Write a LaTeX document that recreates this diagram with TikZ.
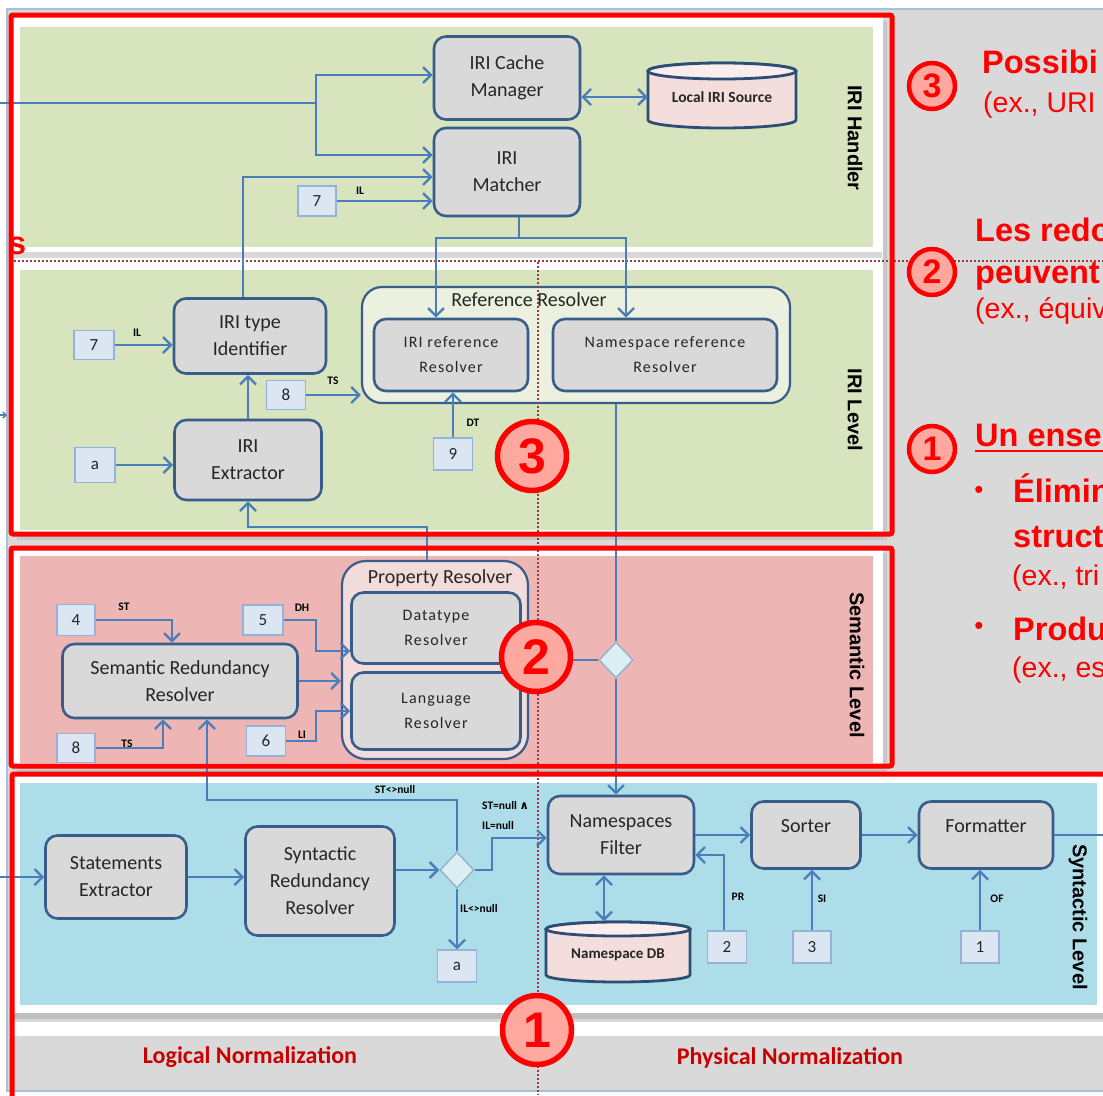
\documentclass[tikz,border=0pt]{standalone}
\usepackage{fontspec}
\setmainfont{Carlito}
\newfontfamily\arialf{Liberation Sans}
\newfontfamily\spacedf[LetterSpace=7]{Carlito}
\newfontfamily\dejaf{DejaVu Sans}
\usetikzlibrary{arrows.meta,shapes.geometric,calc}
\definecolor{arr}{HTML}{4A7EBB}
\definecolor{boxfill}{HTML}{D9D9D9}
\definecolor{boxdraw}{HTML}{385D8A}
\definecolor{pgreen}{HTML}{D7E4BD}
\definecolor{ppink}{HTML}{EEB5B5}
\definecolor{pblue}{HTML}{ADDDE9}
\definecolor{numfill}{HTML}{DCE6F2}
\definecolor{numdraw}{HTML}{95B3D7}
\definecolor{redx}{HTML}{FF0000}
\definecolor{circfill}{HTML}{FFA8A0}
\definecolor{darkred}{HTML}{C80000}
\definecolor{contA}{HTML}{EBF1DE}
\definecolor{contB}{HTML}{F2DCDB}
\definecolor{cylfill}{HTML}{F4DEDD}
\definecolor{cyltop}{HTML}{FBEDED}
\definecolor{cyldraw}{HTML}{2D4E74}
\definecolor{slide}{HTML}{D9D9D9}
\definecolor{dotc}{HTML}{9B3B3B}
\definecolor{framec}{HTML}{A9C0DA}
\definecolor{txt}{HTML}{262626}
\definecolor{decfill}{HTML}{DAEEF3}
\definecolor{decdraw}{HTML}{8EB0C8}
\begin{document}
\begin{tikzpicture}[x=1pt,y=-1pt,
  proc/.style={draw=boxdraw, fill=boxfill, line width=2.6pt, rounded corners=12pt, align=center, text=txt, font=\fontsize{20}{27}\selectfont, inner sep=0pt},
  sproc/.style={proc, font=\spacedf\fontsize{16}{25}\selectfont},
  num/.style={draw=numdraw, fill=numfill, line width=1.2pt, inner sep=0pt, minimum width=39pt, minimum height=31pt, font=\fontsize{17}{17}\selectfont, text=txt},
  tag/.style={font=\bfseries\fontsize{11.5}{12}\selectfont, text=black, inner sep=0pt},
  flow/.style={draw=arr, line width=2.4pt, -{Straight Barb[length=8pt,width=16pt]}},
  flowboth/.style={draw=arr, line width=2.4pt, {Straight Barb[length=8pt,width=16pt]}-{Straight Barb[length=8pt,width=16pt]}},
  conn/.style={draw=arr, line width=2.4pt},
  cont/.style={draw=boxdraw, line width=2.2pt, rounded corners=20pt, inner sep=0pt},
  contlab/.style={font=\fontsize{20}{20}\selectfont, text=txt, inner sep=0pt},
  dec/.style={diamond, draw=decdraw, fill=decfill, line width=1.3pt, minimum width=34pt, minimum height=36pt, inner sep=0pt},
  bigc/.style={circle, draw=redx, fill=circfill, line width=5.5pt, minimum size=69pt, inner sep=0pt, text=redx, font=\arialf\bfseries\fontsize{50}{50}\selectfont},
  smallc/.style={circle, draw=redx, fill=circfill, line width=4.5pt, minimum size=46pt, inner sep=0pt, text=redx, font=\arialf\bfseries\fontsize{34}{34}\selectfont},
  vlab/.style={rotate=-90, font=\arialf\bfseries\fontsize{20}{20}\selectfont, text=black, inner sep=0pt},
  rtb/.style={anchor=base west, inner sep=0pt, text=redx, font=\arialf\bfseries\fontsize{32.5}{33}\selectfont},
  rtr/.style={anchor=base west, inner sep=0pt, text=redx, font=\arialf\fontsize{28.5}{29}\selectfont},
  norm/.style={font=\bfseries\fontsize{24}{24}\selectfont, text=darkred, inner sep=0pt},
  dbtext/.style={font=\bfseries\fontsize{15.5}{16}\selectfont, text=txt, inner sep=0pt},
  redbox/.style={draw=redx, line width=5pt, rounded corners=2pt}
]
\useasboundingbox (0,0) rectangle (1103,1095);
\clip (0,0) rectangle (1103,1095);
% ---------- background ----------
\fill[white] (0,0) rectangle (1103,1095);
\fill[slide] (7,9) rectangle (1103,1091);
\draw[framec, line width=1.2pt] (7,9) rectangle (1112,1091);
% cards
\fill[black!22] (17,21) rectangle (887,540);
\fill[white] (13,16) rectangle (883,536);
\fill[black!15] (14,252) rectangle (882,258);
\fill[black!22] (17,553) rectangle (887,772);
\fill[white] (13,549) rectangle (883,768);
\fill[white] (13,776) rectangle (1103,1013);
\fill[black!25] (13,1013) rectangle (1103,1019);
\fill[white] (13,1022) rectangle (1103,1036);
% panels
\fill[pgreen] (20,27) rectangle (873,247);
\fill[pgreen] (20,270) rectangle (873,530);
\fill[ppink] (20,556) rectangle (873,763);
\fill[pblue] (20,783) rectangle (1097,1005);
% containers
\node[cont, fill=contA, minimum width=428pt, minimum height=116pt] (refcont) at (576,345) {};
\node[cont, fill=contB, minimum width=186pt, minimum height=198pt, rounded corners=24pt] (propcont) at (435,660) {};
% dotted separators
\draw[dotc, line width=2pt, dotted] (14,261) -- (1103,261);
\draw[dotc, line width=2pt, dotted] (538,262) -- (538,1095);
\node[contlab] (refl) at (529,300) {Reference Resolver};
\node[contlab] (propl) at (440,578) {Property Resolver};
% ---------- IRI Handler ----------
\node[proc, minimum width=146pt, minimum height=83pt] (cache) at (507,78) {IRI Cache\\Manager};
\node[proc, minimum width=146pt, minimum height=88pt] (matcher) at (507,172) {IRI\\Matcher};
\node[minimum width=148pt, minimum height=64pt, inner sep=0pt] (lis) at (722,97) {};
\filldraw[fill=cylfill, draw=cyldraw, line width=2.8pt] (648,71) -- (648,120) arc[start angle=180, end angle=360, x radius=74pt, y radius=8pt] -- (796,71) arc[start angle=0, end angle=180, x radius=74pt, y radius=8pt] -- cycle;
\filldraw[fill=cyltop, draw=cyldraw, line width=2.8pt] (722,71) ellipse [x radius=74pt, y radius=8pt];
\node[dbtext] at (lis.center) {Local IRI Source};
\node[num, minimum width=38pt, minimum height=30pt] (n7a) at (317,201) {7};
% ---------- IRI Level ----------
\node[proc, minimum width=152pt, minimum height=75pt] (ident) at (250,336) {IRI type\\Identifier};
\node[num, minimum width=40pt, minimum height=29pt] (n7b) at (94,345) {7};
\node[num, minimum width=39pt, minimum height=29pt] (n8a) at (286,395) {8};
\node[proc, minimum width=147pt, minimum height=80pt] (extr) at (248,460) {IRI\\Extractor};
\node[num, minimum width=40pt, minimum height=35pt] (na1) at (95,465) {a};
\node[sproc, minimum width=154pt, minimum height=72pt] (irires) at (451,355) {IRI reference\\Resolver};
\node[sproc, minimum width=224pt, minimum height=72pt] (nsres) at (665,355) {Namespace reference\\Resolver};
\node[num, minimum width=39pt, minimum height=32pt] (n9) at (453,454) {9};
% ---------- Semantic Level ----------
\node[proc, minimum width=235pt, minimum height=74pt] (srr) at (180,681) {Semantic Redundancy\\Resolver};
\node[num, minimum width=38pt, minimum height=31pt] (n4) at (76,620) {4};
\node[num, minimum width=40pt, minimum height=30pt] (n5) at (263,620) {5};
\node[num, minimum width=38pt, minimum height=29pt] (n8b) at (76,748) {8};
\node[num, minimum width=39pt, minimum height=30pt] (n6) at (266,741) {6};
\node[sproc, minimum width=169pt, minimum height=71pt] (dtres) at (436,628) {Datatype\\Resolver};
\node[sproc, minimum width=169pt, minimum height=77pt] (lres) at (436,711) {Language\\Resolver};
\node[dec] (d2) at (616,660) {};
% ---------- Syntactic Level ----------
\node[proc, minimum width=141pt, minimum height=83pt] (se) at (116,877) {Statements\\Extractor};
\node[proc, minimum width=149pt, minimum height=109pt] (syr) at (320,881) {Syntactic\\Redundancy\\Resolver};
\node[dec] (d1) at (457,870) {};
\node[num, minimum width=39pt, minimum height=32pt] (na2) at (457,966) {a};
\node[proc, minimum width=146pt, minimum height=78pt] (filter) at (621,835) {Namespaces\\Filter};
\node[minimum width=144pt, minimum height=61pt, inner sep=0pt] (nsdb) at (618,952) {};
\filldraw[fill=cylfill, draw=cyldraw, line width=2.8pt] (546,929) -- (546,975) arc[start angle=180, end angle=360, x radius=72pt, y radius=7pt] -- (690,929) arc[start angle=0, end angle=180, x radius=72pt, y radius=7pt] -- cycle;
\filldraw[fill=cyltop, draw=cyldraw, line width=2.8pt] (618,929) ellipse [x radius=72pt, y radius=7pt];
\node[dbtext, font=\bfseries\fontsize{15}{15}\selectfont] at ([yshift=-3pt]nsdb.center) {Namespace DB};
\node[proc, minimum width=109pt, minimum height=67pt, text height=13pt, text depth=19pt] (sorter) at (806,835) {Sorter};
\node[proc, minimum width=134pt, minimum height=67pt, text height=13pt, text depth=19pt] (formatter) at (986,835) {Formatter};
\node[num, minimum width=39pt, minimum height=32pt] (n2) at (727,947) {2};
\node[num, minimum width=38pt, minimum height=32pt] (n3) at (812,947) {3};
\node[num, minimum width=38pt, minimum height=32pt] (n1) at (980,947) {1};
% ---------- connectors: IRI Handler ----------
\coordinate (inA) at (0,103);
\coordinate (jA) at (316,103);
\draw[conn] (inA) -- (jA);
\draw[flow] (jA) |- ([yshift=3pt]cache.west);
\draw[flow] (jA) |- ([yshift=17pt]matcher.west);
\draw[flowboth] (cache.east |- lis.west) -- (lis.west);
\draw[flow] ([xshift=-7pt]ident.north) |- ([yshift=-5pt]matcher.west);
\draw[flow] (n7a.east) -- (n7a.east -| matcher.west);
\coordinate (split) at (519,238);
\draw[conn] (split |- matcher.south) -- (split);
\draw[flow] (split) -| ([xshift=-15pt]irires.north);
\draw[flow] (split) -| ([xshift=-39pt]nsres.north);
% ---------- connectors: IRI Level ----------
\coordinate (stubA) at (0,415);
\coordinate (stubB) at (7,415);
\draw[draw=arr, line width=1.5pt, -{Straight Barb[length=3pt,width=6pt]}] (stubA) -- (stubB);
\draw[flow] (n7b.east) -- (n7b.east -| ident.west);
\draw[flow] (n8a.east) -- (n8a.east -| refcont.west);
\draw[flow] (na1.east) -- (na1.east -| extr.west);
\draw[flow] (extr.north) -- (extr.north |- ident.south);
\draw[flow] (n9.north) -- (n9.north |- irires.south);
\draw[conn] (refcont.south -| d2.north) -- (d2.north);
\draw[flow] (d2.south) -- (d2.south |- filter.north);
\coordinate (pr1) at (427,527);
\draw[flow] (propcont.north -| pr1) -- (pr1) -| (extr.south);
% ---------- connectors: Semantic ----------
\draw[flow] (n4.east) -| ([xshift=-8pt]srr.north);
\coordinate (c5) at (316,651);
\draw[flow] (n5.east) -| (c5) -- (c5 -| dtres.west);
\draw[flow] (n8b.east) -| ([xshift=-17pt]srr.south);
\coordinate (c6) at (316,711);
\draw[flow] (n6.east) -| (c6) -- (c6 -| lres.west);
\draw[flow] (srr.east) -- (srr.east -| propcont.west);
\draw[conn] (propcont.east) -- (d2.west);
% ---------- connectors: Syntactic ----------
\coordinate (inS) at (0,877);
\draw[flow] (inS) -- (se.west);
\draw[flow] (se.east) -- (se.east -| syr.west);
\draw[flow] (syr.east |- d1.west) -- (d1.west);
\coordinate (c1) at (492,838);
\draw[flow] (d1.east) -| (c1) -- (c1 -| filter.west);
\draw[flow] (d1.south) -- (na2.north);
\coordinate (c2) at (207,800);
\draw[flow] (d1.north) |- (c2) -- (c2 |- srr.south);
\draw[flowboth] ([xshift=-17pt]filter.south) -- ([xshift=-14pt]nsdb.north);
\draw[flow] (filter.east) -- (sorter.west);
\draw[flow] (sorter.east) -- (formatter.west);
\coordinate (outS) at (1103,835);
\draw[conn] (formatter.east) -- (outS);
\draw[flow] ([xshift=-3pt]n2.north) |- ([yshift=-20pt]filter.east);
\draw[flow] (n3.north) -- (n3.north |- sorter.south);
\draw[flow] (n1.north) -- (n1.north |- formatter.south);
% ---------- tags ----------
\node[tag] (tIL1) at (360,191) {IL};
\node[tag] (tIL2) at (137,333) {IL};
\node[tag] (tTS1) at (333,381) {TS};
\node[tag] (tDT) at (473,423) {DT};
\node[tag] (tST) at (124,607) {ST};
\node[tag] (tDH) at (302,608) {DH};
\node[tag] (tTS2) at (127,744) {TS};
\node[tag] (tLI) at (302,735) {LI};
\node[tag] (tSTn) at (395,789) {ST<>null};
\node[tag, anchor=west] (tSTa) at (482,805) {ST=null {\dejaf\bfseries ∧}};
\node[tag, anchor=west] (tILa) at (482,825) {IL=null};
\node[tag, anchor=west] (tILn) at (460,908) {IL<>null};
\node[tag] (tPR) at (738,897) {PR};
\node[tag] (tSI) at (822,899) {SI};
\node[tag] (tOF) at (997,899) {OF};
% ---------- level labels ----------
\node[vlab] (vl1) at (855,138) {IRI Handler};
\node[vlab] (vl2) at (855,410) {IRI Level};
\node[vlab] (vl3) at (857,665) {Semantic Level};
\node[vlab] (vl4) at (1078,917) {Syntactic Level};
% bottom labels
\node[norm] (ln) at (250,1057) {Logical Normalization};
\node[norm] (pn) at (790,1058) {Physical Normalization};
% ---------- red boxes ----------
\draw[redbox] (11,15) rectangle (892,534);
\draw[redbox] (11,548) rectangle (892,766);
\draw[redbox] (12,774) rectangle (1115,1110);
% ---------- circles ----------
\node[bigc] (C3) at (532,456) {3};
\node[bigc] (C2) at (536,657) {2};
\node[bigc] (C1) at (537,1030) {1};
\node[smallc] (R3) at (932,86) {3};
\node[smallc] (R2) at (932,272) {2};
\node[smallc] (R1) at (932,449) {1};
% ---------- right-hand text ----------
\node[rtb] (sfrag) at (8,254) {s};
\node[rtb] (t3a) at (982,73) {Possibi};
\node[rtr] (t3b) at (983,112) {(ex., URI};
\node[rtb] (t2a) at (975,241) {Les redo};
\node[rtb] (t2b) at (975,283) {peuvent};
\node[rtr] (t2c) at (975,318) {(ex., équiv};
\node[rtb] (t1a) at (975,446) {Un ense};
\draw[redx, line width=2.6pt] (975,451) -- (1110,451);
\node[text=redx, font=\arialf\fontsize{26}{26}\selectfont, inner sep=0pt] (b1) at (979,492) {•};
\node[rtb] (t1b) at (1013,502) {Élimin};
\node[rtb] (t1c) at (1013,547) {struct};
\node[rtr] (t1d) at (1012,585) {(ex., tri};
\node[text=redx, font=\arialf\fontsize{26}{26}\selectfont, inner sep=0pt] (b2) at (979,628) {•};
\node[rtb] (t1e) at (1013,640) {Produ};
\node[rtr] (t1f) at (1012,677) {(ex., es};
\end{tikzpicture}
\end{document}
